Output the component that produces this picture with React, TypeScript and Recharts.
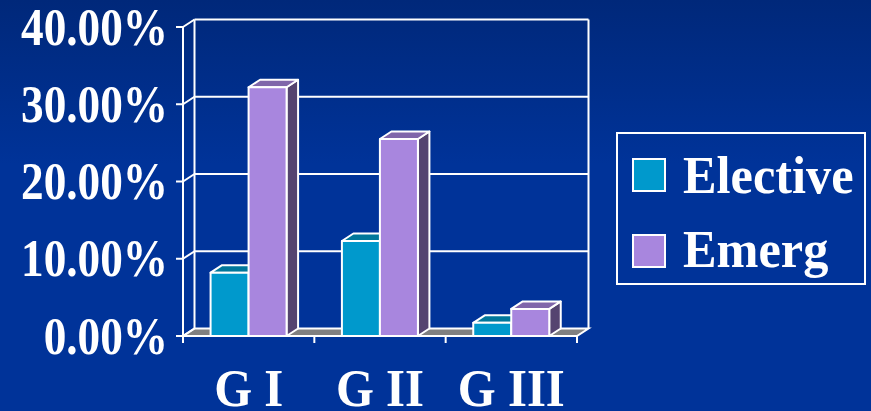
import { BarChart, Bar, XAxis, YAxis, CartesianGrid } from "recharts"

const categories = ["G I", "G II", "G III"]
const elective = [0.082, 0.123, 0.017]
const emerg = [0.322, 0.255, 0.035]
const yTicks = [0, 0.1, 0.2, 0.3, 0.4]

const W = 871
const H = 411
const PLOT_LEFT = 183
const PLOT_RIGHT = 577
const PLOT_TOP = 27
const PLOT_BOTTOM = 336
// 3D depth offset
const DX = 11.5
const DY = -7.5
const FONT = '"Liberation Serif", "Times New Roman", serif'

const series = [
  { key: "elective", name: "Elective", front: "#0099cc", top: "#00779b", side: "#005f7d" },
  { key: "emerg", name: "Emerg", front: "#a886de", top: "#8066aa", side: "#554470" },
]

const data = categories.map((name, i) => ({ name, elective: elective[i], emerg: emerg[i] }))

const verticalPoints = categories
  .map((_, i) => PLOT_LEFT + (i * (PLOT_RIGHT - PLOT_LEFT)) / categories.length)
  .concat(PLOT_RIGHT)

function Bar3D(props: any) {
  const { x, y, width, height, colors } = props
  if (height == null || width == null) return null
  const r = x + width
  const b = y + height
  return (
    <g stroke="#fff" strokeWidth={2} strokeLinejoin="round">
      <polygon points={`${r},${y} ${r + DX},${y + DY} ${r + DX},${b + DY} ${r},${b}`} fill={colors.side} />
      <polygon points={`${x},${y} ${x + DX},${y + DY} ${r + DX},${y + DY} ${r},${y}`} fill={colors.top} />
      <rect x={x} y={y} width={width} height={height} fill={colors.front} />
    </g>
  )
}

function gridRow(props: any) {
  const { x1, x2, y1, index } = props
  const floor = Math.abs(y1 - PLOT_BOTTOM) < 1
  const top = Math.abs(y1 - PLOT_TOP) < 1
  return (
    <g key={`row-${index}`} stroke="#fff" strokeWidth={2}>
      {floor ? (
        <polygon
          points={`${x1},${y1} ${x2},${y1} ${x2 + DX},${y1 + DY} ${x1 + DX},${y1 + DY}`}
          fill="#808080"
        />
      ) : (
        <line x1={x1 + DX} y1={y1 + DY} x2={x2 + DX} y2={y1 + DY} />
      )}
      <line x1={x1} y1={y1} x2={x1 + DX} y2={y1 + DY} />
      {top && (
        <>
          <line x1={x1 + DX} y1={y1 + DY} x2={x1 + DX} y2={PLOT_BOTTOM + DY} />
          <line x1={x2 + DX} y1={y1 + DY} x2={x2 + DX} y2={PLOT_BOTTOM + DY} />
        </>
      )}
    </g>
  )
}

function gridCol(props: any) {
  const { x1, index } = props
  return <line key={`col-${index}`} x1={x1} y1={PLOT_BOTTOM} x2={x1} y2={PLOT_BOTTOM + 7} stroke="#fff" strokeWidth={2} />
}

function YTick(props: any) {
  const { x, y, payload } = props
  return (
    <g transform={`translate(${x},${y}) scale(0.87,1)`}>
      <text textAnchor="end" dy="0.34em" fill="#fff" fontSize={52} fontWeight="bold" fontFamily={FONT}>
        {(payload.value * 100).toFixed(2) + "%"}
      </text>
    </g>
  )
}

function XTick(props: any) {
  const { x, y, payload } = props
  return (
    <g transform={`translate(${x},${y}) scale(0.92,1)`}>
      <text textAnchor="middle" dy={70} fill="#fff" fontSize={53} fontWeight="bold" fontFamily={FONT}>
        {payload.value}
      </text>
    </g>
  )
}

function LegendBox() {
  return (
    <svg width={250} height={153} style={{ position: "absolute", left: 616, top: 132 }}>
      <rect x={1} y={1} width={248} height={151} fill="none" stroke="#fff" strokeWidth={2} />
      {series.map((s, i) => (
        <g key={s.key}>
          <rect x={17} y={27 + i * 76} width={32} height={32} fill={s.front} stroke="#fff" strokeWidth={2} />
          <g transform={`translate(67,${61 + i * 74}) scale(0.95,1)`}>
            <text fill="#fff" fontSize={53} fontWeight="bold" fontFamily={FONT}>
              {s.name}
            </text>
          </g>
        </g>
      ))}
    </svg>
  )
}

export default function App() {
  return (
    <div
      style={{
        position: "absolute",
        left: 0,
        top: 0,
        width: W,
        height: H,
        background: "linear-gradient(180deg, #00287a 0%, #003399 40%, #003399 100%)",
        overflow: "hidden",
      }}
    >
      <BarChart
        width={W}
        height={H}
        data={data}
        margin={{ top: PLOT_TOP, right: W - PLOT_RIGHT, bottom: 0, left: 0 }}
        barCategoryGap="21%"
        barGap={0}
      >
        <CartesianGrid
          horizontal={gridRow}
          vertical={gridCol}
          verticalPoints={verticalPoints}
          stroke="#fff"
        />
        <XAxis
          dataKey="name"
          height={H - PLOT_BOTTOM}
          axisLine={{ stroke: "#fff", strokeWidth: 2 }}
          tickLine={false}
          tickSize={0}
          tickMargin={0}
          tick={<XTick />}
          interval={0}
        />
        <YAxis
          width={PLOT_LEFT}
          domain={[0, 0.4]}
          ticks={yTicks}
          axisLine={{ stroke: "#fff", strokeWidth: 2 }}
          tickLine={{ stroke: "#fff", strokeWidth: 2 }}
          tickSize={7}
          tickMargin={8}
          tick={<YTick />}
          interval={0}
        />
        {series.map((s) => (
          <Bar
            key={s.key}
            dataKey={s.key}
            name={s.name}
            isAnimationActive={false}
            shape={(p: any) => <Bar3D {...p} colors={s} />}
          />
        ))}
      </BarChart>
      <LegendBox />
    </div>
  )
}
